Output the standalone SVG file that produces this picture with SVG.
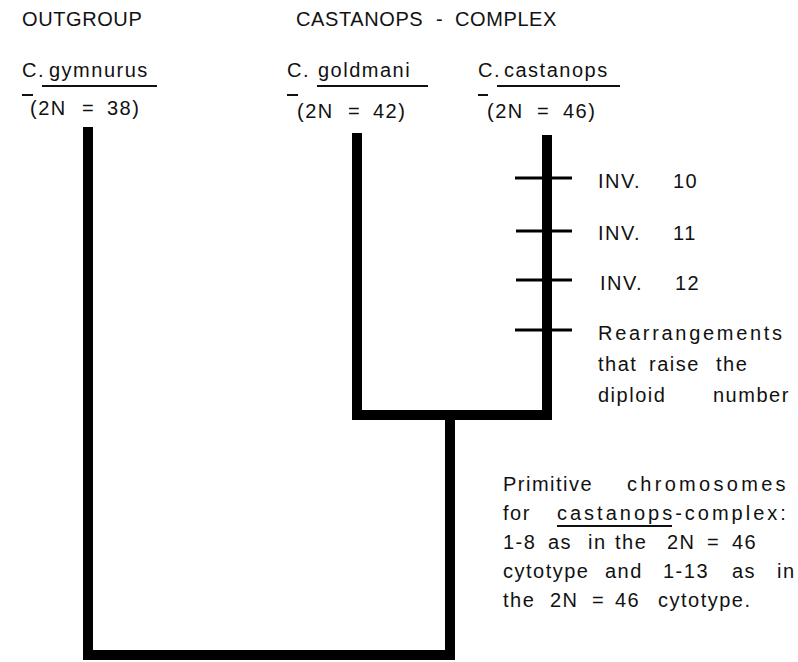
<svg xmlns="http://www.w3.org/2000/svg" width="798" height="662" viewBox="0 0 798 662">
<style>
text{font-family:"Liberation Sans",Arial,Helvetica,sans-serif;font-size:20px;fill:#111;letter-spacing:1.5px}
.hd{letter-spacing:0.6px}
.br{fill:none;stroke:#000;stroke-width:10;stroke-linejoin:miter;stroke-linecap:butt}
.tk{stroke:#000;stroke-width:3}
.ul{stroke:#111;stroke-width:2}
</style>
<rect width="798" height="662" fill="#fff"/>
<g id="connectors">
<path class="br" d="M88 127 V655 H450 V415"/>
<path class="br" d="M357 133 V415 H547 V135"/>
<line class="tk" x1="515" y1="178" x2="572" y2="178"/>
<line class="tk" x1="516" y1="231" x2="572" y2="231"/>
<line class="tk" x1="516" y1="280" x2="572" y2="280"/>
<line class="tk" x1="515" y1="330" x2="572" y2="330"/>
</g>
<g id="header-outgroup"><text class="hd" x="22" y="26">OUTGROUP</text></g>
<g id="header-complex"><text class="hd" y="26"><tspan x="296">CASTANOPS</tspan><tspan x="436">-</tspan><tspan x="455">COMPLEX</tspan></text></g>
<g id="n-gymnurus">
<text y="77"><tspan x="22">C.</tspan><tspan x="49">gymnurus</tspan></text>
<line class="ul" x1="22" y1="95" x2="33" y2="95"/>
<line class="ul" x1="42" y1="86" x2="157" y2="86"/>
<text y="115"><tspan x="30">(2N</tspan><tspan x="82">=</tspan><tspan x="107">38)</tspan></text>
</g>
<g id="n-goldmani">
<text y="77"><tspan x="287">C.</tspan><tspan x="318">goldmani</tspan></text>
<line class="ul" x1="287" y1="95" x2="298" y2="95"/>
<line class="ul" x1="317" y1="86" x2="428" y2="86"/>
<text y="118"><tspan x="297">(2N</tspan><tspan x="348">=</tspan><tspan x="373">42)</tspan></text>
</g>
<g id="n-castanops">
<text y="77"><tspan x="478">C.</tspan><tspan x="504">castanops</tspan></text>
<line class="ul" x1="478" y1="95" x2="488" y2="95"/>
<line class="ul" x1="497" y1="86" x2="620" y2="86"/>
<text y="118"><tspan x="487">(2N</tspan><tspan x="537">=</tspan><tspan x="563">46)</tspan></text>
</g>
<g id="n-inv10"><text y="188"><tspan x="598">INV.</tspan><tspan x="673">10</tspan></text></g>
<g id="n-inv11"><text y="240"><tspan x="598">INV.</tspan><tspan x="673">11</tspan></text></g>
<g id="n-inv12"><text y="290"><tspan x="600">INV.</tspan><tspan x="675">12</tspan></text></g>
<g id="n-rearr">
<text y="340"><tspan x="598" style="letter-spacing:2.7px">Rearrangements</tspan></text>
<text y="371"><tspan x="598">that</tspan><tspan x="649">raise</tspan><tspan x="716">the</tspan></text>
<text y="402"><tspan x="598">diploid</tspan><tspan x="713">number</tspan></text>
</g>
<g id="n-primitive">
<text y="491"><tspan x="503">Primitive</tspan><tspan x="627" style="letter-spacing:3.3px">chromosomes</tspan></text>
<text y="520"><tspan x="503">for</tspan><tspan x="557" style="letter-spacing:3px">castanops-complex:</tspan></text>
<line class="ul" x1="557" y1="526" x2="672" y2="526"/>
<text y="549"><tspan x="503">1-8</tspan><tspan x="548">as</tspan><tspan x="588">in</tspan><tspan x="615">the</tspan><tspan x="667">2N</tspan><tspan x="707">=</tspan><tspan x="732">46</tspan></text>
<text y="578"><tspan x="503">cytotype</tspan><tspan x="605">and</tspan><tspan x="663">1-13</tspan><tspan x="732">as</tspan><tspan x="777">in</tspan></text>
<text y="607"><tspan x="503">the</tspan><tspan x="550">2N</tspan><tspan x="592">=</tspan><tspan x="615">46</tspan><tspan x="658">cytotype.</tspan></text>
</g>
</svg>
